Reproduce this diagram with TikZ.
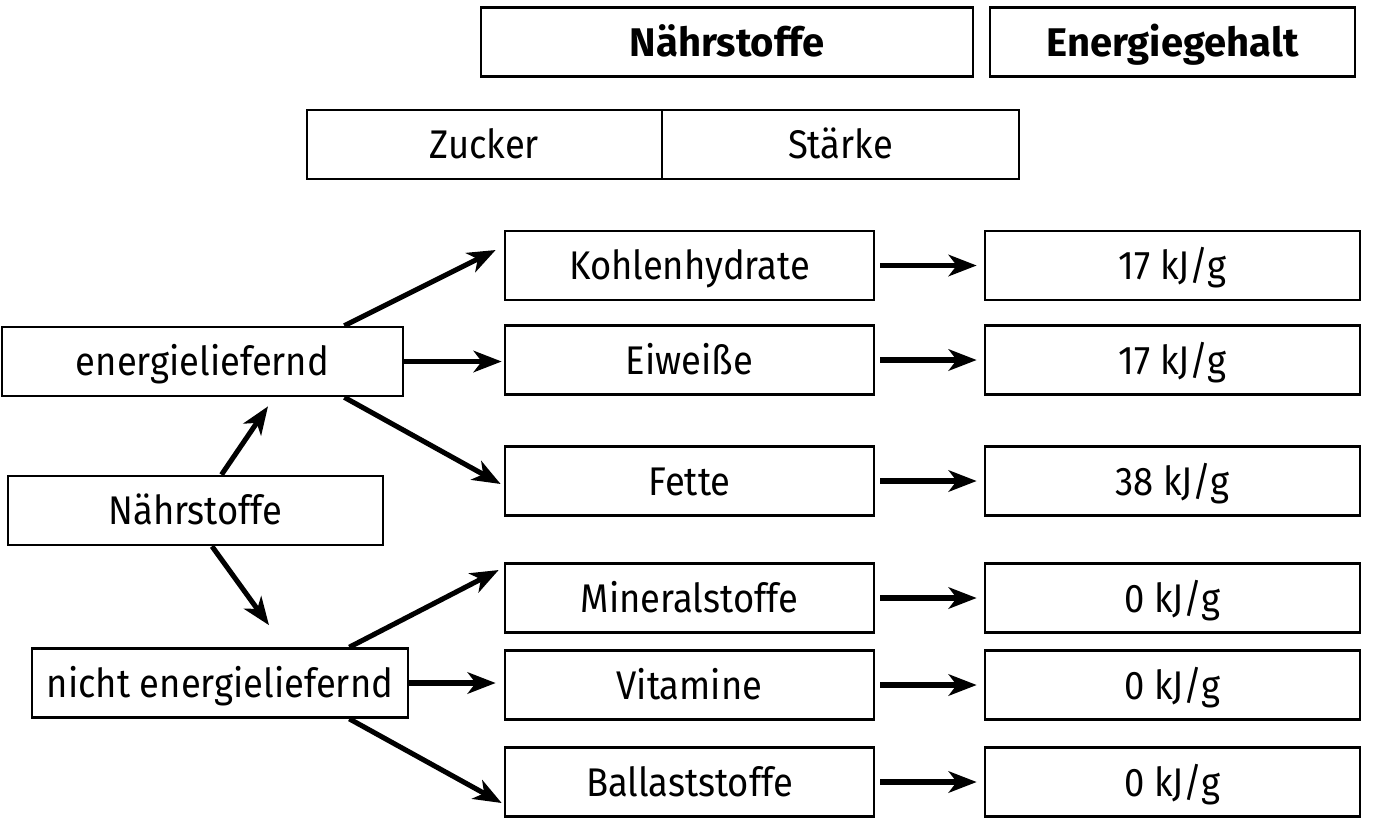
\documentclass[tikz,border=0pt]{standalone}
\usepackage{fontspec}
\setmainfont{Fira Sans}[FakeStretch=0.91]
\newfontfamily\hdfont{Fira Sans}
\usetikzlibrary{arrows.meta,calc}
\tikzset{
  box/.style={draw, line width=2pt, rectangle, inner sep=0pt, font=\fontsize{30}{36}\selectfont, text height=21pt, text depth=0pt, minimum height=69*0.75pt},
  hbox/.style={box, font=\fontsize{30}{36}\selectfont\hdfont\bfseries},
  arr/.style={line width=3.8pt, -{Stealth[length=21pt, width=16pt, inset=6pt]}},
}
\begin{document}
\begin{tikzpicture}[x=0.75pt, y=-0.75pt]
\useasboundingbox (0,0) rectangle (1383,819);
% headers
\node[hbox, minimum width=492*0.75pt] (hn) at (727,42) {Nährstoffe};
\node[hbox, minimum width=365*0.75pt] (he) at (1172.5,42) {Energiegehalt};
\node[box, minimum width=355*0.75pt] (zu) at (484.5,144.5) {Zucker};
\node[box, minimum width=357*0.75pt] (st) at (840.5,144.5) {Stärke};
% left column
\node[box, minimum width=401*0.75pt] (en) at (202.5,361.5) {energieliefernd};
\node[box, minimum width=375*0.75pt] (na) at (195.5,510.5) {Nährstoffe};
\node[box, minimum width=376*0.75pt] (ne) at (220,683) {nicht energieliefernd};
% middle column
\node[box, minimum width=369*0.75pt] (kh) at (689.5,265.5) {Kohlenhydrate};
\node[box, minimum width=369*0.75pt] (ei) at (689.5,360) {Eiweiße};
\node[box, minimum width=369*0.75pt] (fe) at (689.5,481) {Fette};
\node[box, minimum width=369*0.75pt] (mi) at (689.5,598) {Mineralstoffe};
\node[box, minimum width=369*0.75pt] (vi) at (689.5,685) {Vitamine};
\node[box, minimum width=369*0.75pt] (ba) at (689.5,782) {Ballaststoffe};
% right column
\node[box, minimum width=375*0.75pt] (ekh) at (1172.5,265.5) {17 kJ/g};
\node[box, minimum width=375*0.75pt] (eei) at (1172.5,360) {17 kJ/g};
\node[box, minimum width=375*0.75pt] (efe) at (1172.5,481) {38 kJ/g};
\node[box, minimum width=375*0.75pt] (emi) at (1172.5,598) {0 kJ/g};
\node[box, minimum width=375*0.75pt] (evi) at (1172.5,685) {0 kJ/g};
\node[box, minimum width=375*0.75pt] (eba) at (1172.5,782) {0 kJ/g};
% arrows
\draw[arr] ($(na.north)+(26,0)$) -- ($(en.south)+(65.5,9)$);
\draw[arr] ($(na.south)+(16.5,0)$) -- ($(ne.north)+(49,-22)$);
\draw[arr] ($(en.north east)+(-60,0)$) -- ($(kh.west)+(-8,-15.5)$);
\draw[arr] (en.east) -- ($(en.east -| ei.west)+(-2,0)$);
\draw[arr] ($(en.south east)+(-60,0)$) -- ($(fe.west)+(-3,3)$);
\draw[arr] ($(ne.north east)+(-60,0)$) -- ($(mi.west)+(-5,-28)$);
\draw[arr] (ne.east) -- ($(ne.east -| vi.west)+(-8,0)$);
\draw[arr] ($(ne.south east)+(-60,0)$) -- ($(ba.west)+(-2,21)$);
\foreach \a/\b in {kh/ekh, ei/eei, fe/efe, mi/emi, vi/evi, ba/eba}{
  \draw[arr] ($(\a.east)+(5,0)$) -- ($(\b.west)+(-7,0)$);
}
\end{tikzpicture}
\end{document}
